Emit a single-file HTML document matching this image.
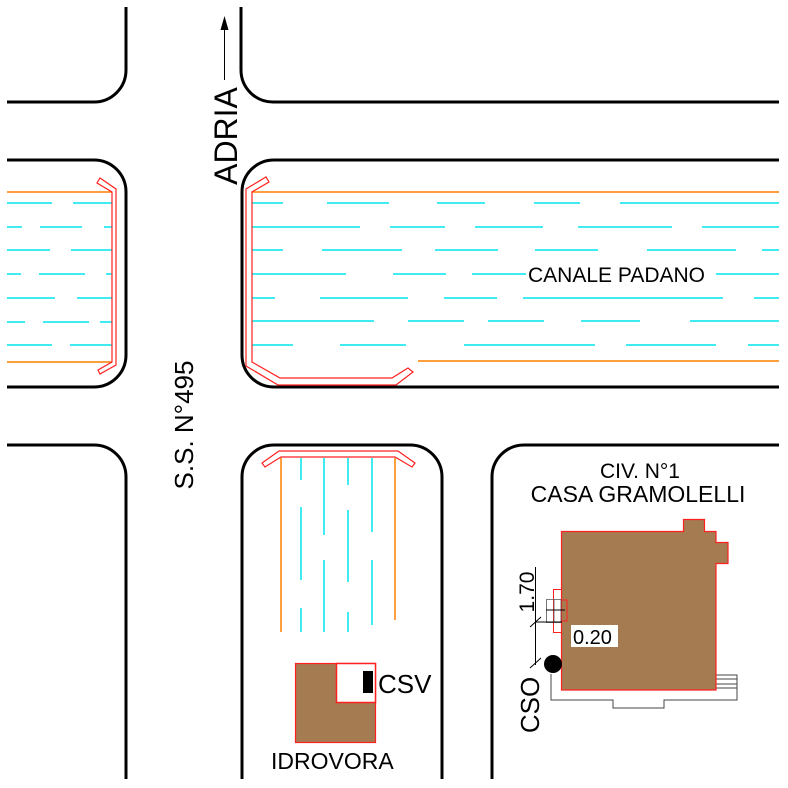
<!DOCTYPE html>
<html><head><meta charset="utf-8"><style>html,body{margin:0;padding:0;background:#fff}svg{display:block}</style></head>
<body>
<svg width="788" height="788" viewBox="0 0 788 788" xmlns="http://www.w3.org/2000/svg" font-family="Liberation Sans, Arial, sans-serif">
<rect width="788" height="788" fill="#fff"/>
<g fill="none" stroke="#000" stroke-width="3">
<path d="M126 7 V70 A32 32 0 0 1 94 102 H7"/>
<path d="M241 7 V70 A32 32 0 0 0 273 102 H779"/>
<path d="M7 160 H94 A32 32 0 0 1 126 192 V355 A32 32 0 0 1 94 387 H7"/>
<path d="M779 160 H274 A32 32 0 0 0 242 192 V355 A32 32 0 0 0 274 387 H779"/>
<path d="M7 445 H94 A32 32 0 0 1 126 477 V779"/>
<path d="M242 779 V477 A32 32 0 0 1 274 445 H410 A32 32 0 0 1 442 477 V779"/>
<path d="M492 779 V477 A32 32 0 0 1 524 445 H779"/>
</g>
<g stroke="#ff8000" stroke-width="1.5">
<line x1="7" y1="192" x2="112" y2="192"/><line x1="7" y1="362" x2="112" y2="362"/>
<line x1="252" y1="192" x2="779" y2="192"/><line x1="418" y1="361" x2="779" y2="361"/>
<line x1="281" y1="458" x2="281" y2="632"/><line x1="395" y1="458" x2="395" y2="620"/>
</g>
<g stroke="#00e5ee" stroke-width="1.5">
<path d="M7 203H52M73 203H112M7 227H22M40 227H82M104 227H112M7 250H50M71 250H112M7 274H21M39 274H85M106 274H112M7 298H55M77 298H112M7 322H25M43 322H89M100 322H112M7 345H52M70 345H112"/>
<path d="M252 203H283M327 203H389M437 203H485M534 203H580M620 203H779
M252 227H360M390 227H445M475 227H543M578 227H672M702 227H779
M252 250H283M322 250H402M435 250H498M535 250H598M647 250H736M762 250H779
M252 274H346M393 274H446M472 274H526M716 274H779
M252 298H275M320 298H408M444 298H497M523 298H723M754 298H779
M252 321H374M408 321H464M488 321H544M581 321H640M690 321H779
M252 345H293M340 345H406M464 345H595M626 345H716M748 345H779"/>
<path d="M301 458V480M301 507V580M301 608V632M324 458V535M324 560V632M348 458V485M348 510V582M348 612V632M372 458V532M372 560V625"/>
</g>
<g fill="none" stroke="#ff2020" stroke-width="1.2">
<path d="M112 192 V362 L98 370 L100 374 L116 365 V189 L100 178 L97 183 Z"/>
<path d="M252 192 V362 L280 378 H392 L408 368 L413 372 L396 385 H278 L246 366 V189 L266 177 L269 182 Z"/>
<path d="M281 457 H395 L412 467 L415 463 L398 451 H279 L262 463 L265 467 Z"/>
</g>
<rect x="295.5" y="663.5" width="80" height="79" fill="#a57c52" stroke="#ff2020" stroke-width="1.2"/>
<rect x="336.5" y="663.5" width="39" height="39" fill="#fff" stroke="#ff2020" stroke-width="1.5"/>
<rect x="363" y="671" width="10" height="22" fill="#000"/>
<text x="378" y="693" font-size="26">CSV</text>
<text x="271" y="769" font-size="23">IDROVORA</text>
<text x="640" y="478" font-size="21" text-anchor="middle">CIV. N°1</text>
<text x="638" y="502" font-size="23" text-anchor="middle">CASA GRAMOLELLI</text>
<path d="M551 674 V700 H613 V708 H664 V700 H737 V675 H716 M716 679 H737 M716 684 H737 M716 688 H737" fill="none" stroke="#444" stroke-width="1"/>
<path d="M561.5 531.5 H683.5 V519.5 H704.5 V531.5 H716 V542.5 H728 V563.5 H716 V690 H561.5 Z" fill="#a57c52" stroke="#ff2020" stroke-width="1.2"/>
<path d="M561 589.5 H553.5 V632.5 H561 M562 600 H567 V621 H562" fill="none" stroke="#ff2020" stroke-width="1"/>
<path d="M546.5 599.5 H561 V622.5 H546.5 Z M546.5 610 H561 M554 599.5 V622.5" fill="none" stroke="#555" stroke-width="0.8"/>
<path d="M535.5 567 V665 M530 627 L541 617 M530 668 L541 658 M535 622 H562 M546 610 H565" fill="none" stroke="#000" stroke-width="1"/>
<circle cx="553" cy="664" r="9" fill="#000"/>
<rect x="571" y="625" width="47" height="22" fill="#fff"/>
<text x="573" y="644" font-size="20">0.20</text>
<text transform="translate(534,592) rotate(-90)" font-size="21" text-anchor="middle">1.70</text>
<text transform="translate(539,705) rotate(-90)" font-size="26" text-anchor="middle">CSO</text>
<text transform="translate(237,136) rotate(-90)" font-size="32" text-anchor="middle">ADRIA</text>
<line x1="224.5" y1="80" x2="224.5" y2="28" stroke="#000" stroke-width="1"/>
<path d="M224.5 16 L220.5 30 H228.5 Z" fill="#000"/>
<text transform="translate(193,425) rotate(-90)" font-size="26" text-anchor="middle">S.S. N°495</text>
<text x="528" y="282" font-size="21">CANALE PADANO</text>
</svg>
</body></html>
